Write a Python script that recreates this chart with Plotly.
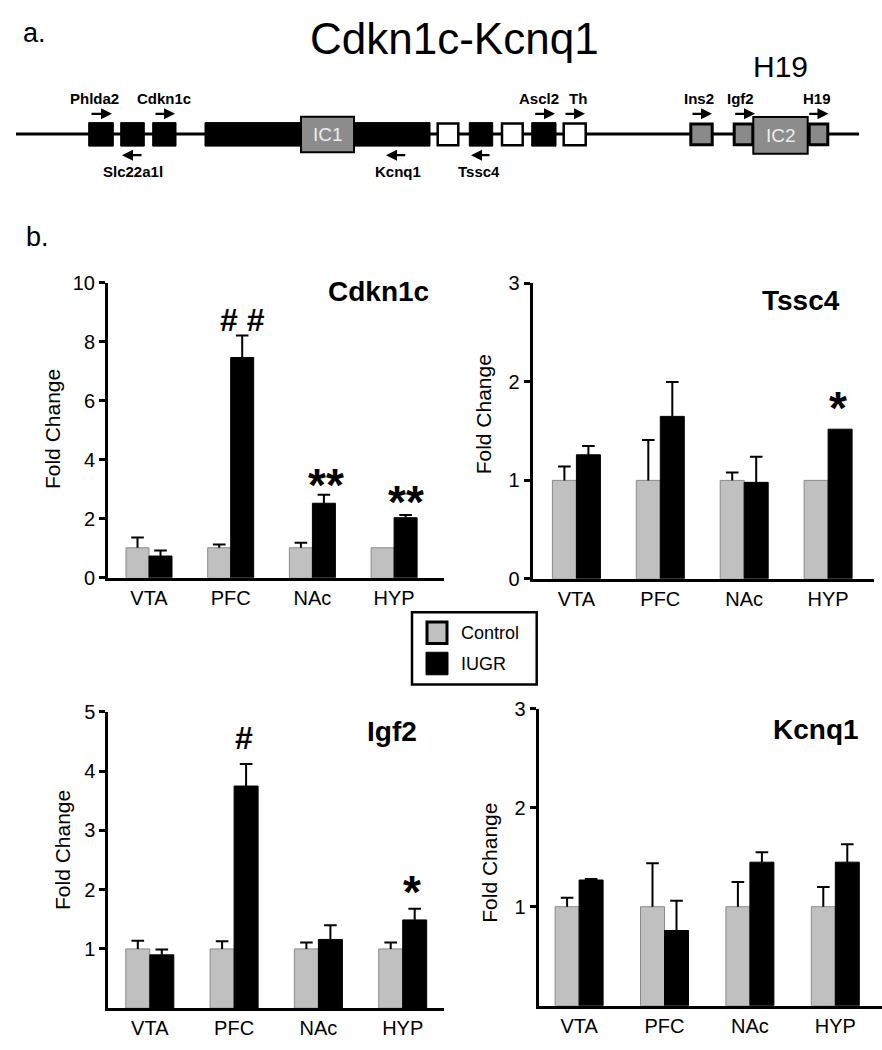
import plotly.graph_objects as go

W, H = 882, 1050
FONT = "Liberation Sans, Arial, sans-serif"

# ---------------- data ----------------
regions = ["VTA", "PFC", "NAc", "HYP"]

cdkn1c_control = [1.02, 1.02, 1.02, 1.02]
cdkn1c_control_sem = [0.35, 0.11, 0.17, 0.0]
cdkn1c_iugr = [0.74, 7.47, 2.53, 2.04]
cdkn1c_iugr_sem = [0.19, 0.75, 0.29, 0.09]

tssc4_control = [1.0, 1.0, 1.0, 1.0]
tssc4_control_sem = [0.14, 0.41, 0.08, 0.0]
tssc4_iugr = [1.26, 1.65, 0.98, 1.52]
tssc4_iugr_sem = [0.09, 0.35, 0.26, 0.0]

igf2_control = [1.0, 1.0, 1.0, 1.0]
igf2_control_sem = [0.14, 0.13, 0.11, 0.11]
igf2_iugr = [0.90, 3.75, 1.16, 1.49]
igf2_iugr_sem = [0.09, 0.37, 0.24, 0.19]

kcnq1_control = [1.0, 1.0, 1.0, 1.0]
kcnq1_control_sem = [0.09, 0.44, 0.25, 0.20]
kcnq1_iugr = [1.27, 0.76, 1.45, 1.45]
kcnq1_iugr_sem = [0.01, 0.30, 0.10, 0.18]

cdkn1c_ticks = [0, 2, 4, 6, 8, 10]
tssc4_ticks = [0, 1, 2, 3]
igf2_ticks = [1, 2, 3, 4, 5]
kcnq1_ticks = [1, 2, 3]

# ---------------- helpers ----------------
def px(x):
    return x / W


def py(y):
    return 1 - y / H


CTRL_COLOR = "#c0c0c0"
IUGR_COLOR = "#000000"

panels = [
    dict(title="Cdkn1c", ctrl=cdkn1c_control, ctrl_sem=cdkn1c_control_sem,
         iugr=cdkn1c_iugr, iugr_sem=cdkn1c_iugr_sem, ticks=cdkn1c_ticks, ymax=10,
         x0=108, x1=444, ytop=277.7, ybot=579, first=41, step=81.7, bar=23,
         title_xy=(378, 286), ytitle_xy=(52, 427)),
    dict(title="Tssc4", ctrl=tssc4_control, ctrl_sem=tssc4_control_sem,
         iugr=tssc4_iugr, iugr_sem=tssc4_iugr_sem, ticks=tssc4_ticks, ymax=3,
         x0=532.7, x1=874, ytop=278.3, ybot=580, first=43.7, step=83.9, bar=24,
         title_xy=(801, 296), ytitle_xy=(483, 412)),
    dict(title="Igf2", ctrl=igf2_control, ctrl_sem=igf2_control_sem,
         iugr=igf2_iugr, iugr_sem=igf2_iugr_sem, ticks=igf2_ticks, ymax=5,
         x0=108.3, x1=444, ytop=716, ybot=1018.5, first=41.5, step=84.3, bar=24,
         title_xy=(392, 736), ytitle_xy=(62, 857)),
    dict(title="Kcnq1", ctrl=kcnq1_control, ctrl_sem=kcnq1_control_sem,
         iugr=kcnq1_iugr, iugr_sem=kcnq1_iugr_sem, ticks=kcnq1_ticks, ymax=3,
         x0=538.7, x1=882, ytop=712.7, ybot=1016, first=40.4, step=85.4, bar=24,
         title_xy=(816, 734), ytitle_xy=(490, 870)),
]

fig = go.Figure()
annotations = []
shapes = []
layout_axes = {}

for i, p in enumerate(panels, start=1):
    xa = "x" if i == 1 else f"x{i}"
    ya = "y" if i == 1 else f"y{i}"
    bw = p["bar"] / p["step"]
    idx = list(range(len(regions)))

    for vals, sems, off, color, lc, name in [
        (p["ctrl"], p["ctrl_sem"], -bw, CTRL_COLOR, "#8a8a8a", "Control"),
        (p["iugr"], p["iugr_sem"], 0, IUGR_COLOR, "black", "IUGR"),
    ]:
        fig.add_trace(go.Bar(
            x=idx, y=vals, width=bw, offset=off, xaxis=xa, yaxis=ya,
            marker=dict(color=color, line=dict(color=lc, width=1)),
            name=name, showlegend=False))
        # upper-only error bars: stem + cap
        centers = [k + off + bw / 2 for k in idx]
        sx, sy, cx, cy = [], [], [], []
        for c, v, s in zip(centers, vals, sems):
            if s > 0:
                sx += [c, c, None]
                sy += [v, v + s, None]
                cx.append(c)
                cy.append(v + s)
        fig.add_trace(go.Scatter(x=sx, y=sy, mode="lines", xaxis=xa, yaxis=ya,
                                 line=dict(color="black", width=2),
                                 hoverinfo="skip", showlegend=False))
        fig.add_trace(go.Scatter(x=cx, y=cy, mode="markers", xaxis=xa, yaxis=ya,
                                 marker=dict(symbol="line-ew", size=9,
                                             line=dict(color="black", width=2)),
                                 hoverinfo="skip", showlegend=False))

    width_px = p["x1"] - p["x0"]
    xr = [-p["first"] / p["step"], (width_px - p["first"]) / p["step"]]
    layout_axes["xaxis" if i == 1 else f"xaxis{i}"] = dict(
        domain=[px(p["x0"]), px(p["x1"])], anchor=ya, range=xr,
        tickvals=idx, ticktext=regions, ticks="", showline=True, linewidth=3,
        linecolor="black", showgrid=False, zeroline=False,
        tickfont=dict(family=FONT, size=20, color="black"), fixedrange=True)
    layout_axes["yaxis" if i == 1 else f"yaxis{i}"] = dict(
        domain=[py(p["ybot"]), py(p["ytop"])], anchor=xa, range=[0, p["ymax"]],
        tickvals=p["ticks"], ticks="outside", ticklen=6, tickwidth=3,
        tickcolor="black", showline=True, linewidth=3, linecolor="black",
        showgrid=False, zeroline=False,
        tickfont=dict(family=FONT, size=20, color="black"), fixedrange=True)

    annotations.append(dict(text=f"<b>{p['title']}</b>", x=px(p["title_xy"][0]),
                            y=py(p["title_xy"][1]), xref="paper", yref="paper",
                            showarrow=False, xanchor="center", yanchor="middle",
                            font=dict(family=FONT, size=28, color="black")))
    annotations.append(dict(text="Fold Change", x=px(p["ytitle_xy"][0]),
                            y=py(p["ytitle_xy"][1]), xref="paper", yref="paper",
                            showarrow=False, textangle=-90, xanchor="center",
                            yanchor="middle",
                            font=dict(family=FONT, size=21, color="black")))

# significance marks (text, x px, y px, size, bold)
sig_marks = [
    ("# #", 242.5, 316, 32, True),
    ("**", 326, 484, 46, True),
    ("**", 406, 501, 46, True),
    ("*", 838, 406, 46, True),
    ("#", 244, 743, 32, True),
    ("*", 412, 900, 46, True),
]
for t, x, y, s, b in sig_marks:
    annotations.append(dict(text=f"<b>{t}</b>" if b else t, x=px(x), y=py(y),
                            xref="paper", yref="paper", showarrow=False,
                            xanchor="center", yanchor="middle",
                            font=dict(family=FONT, size=s, color="black")))

# ---------------- panel a: gene map ----------------
annotations.append(dict(text="a.", x=px(21), y=py(22), xref="paper", yref="paper",
                        showarrow=False, xanchor="left", yanchor="middle",
                        font=dict(family=FONT, size=27, color="black")))
annotations.append(dict(text="b.", x=px(24), y=py(231), xref="paper", yref="paper",
                        showarrow=False, xanchor="left", yanchor="middle",
                        font=dict(family=FONT, size=27, color="black")))
annotations.append(dict(text="Cdkn1c-Kcnq1", x=px(454), y=py(28), xref="paper",
                        yref="paper", showarrow=False, xanchor="center",
                        yanchor="middle",
                        font=dict(family=FONT, size=44, color="black")))
annotations.append(dict(text="H19", x=px(780), y=py(57), xref="paper",
                        yref="paper", showarrow=False, xanchor="center",
                        yanchor="middle",
                        font=dict(family=FONT, size=30, color="black")))

LINE_Y = 125.7
shapes.append(dict(type="line", xref="paper", yref="paper", x0=px(16), x1=px(859),
                   y0=py(LINE_Y), y1=py(LINE_Y), line=dict(color="black", width=3)))

BOX_T, BOX_B = 114, 138
black_boxes = [(88.7, 113.3), (120.7, 144.3), (152.7, 176), (205, 430),
               (469.3, 492.7), (531.7, 556)]
white_boxes = [(436.7, 459.3), (501, 523.7), (562.7, 586.7)]
dotted_boxes = [(689.3, 713.7), (732.7, 754.3), (807.7, 829.3)]
for a, b in black_boxes:
    shapes.append(dict(type="rect", xref="paper", yref="paper", x0=px(a), x1=px(b),
                       y0=py(BOX_B), y1=py(BOX_T), fillcolor="black",
                       line=dict(color="black", width=1)))
for a, b in white_boxes:
    shapes.append(dict(type="rect", xref="paper", yref="paper", x0=px(a + 1),
                       x1=px(b - 1), y0=py(BOX_B - 1), y1=py(BOX_T + 1),
                       fillcolor="white", line=dict(color="black", width=2.5)))
for a, b in dotted_boxes:
    shapes.append(dict(type="rect", xref="paper", yref="paper", x0=px(a + 1.5),
                       x1=px(b - 1.5), y0=py(BOX_B - 1.5), y1=py(BOX_T + 1.5),
                       fillcolor="#8a8a8a", line=dict(color="black", width=3)))

ic_boxes = [("IC1", 301, 354, 108, 144.3), ("IC2", 753.3, 807.7, 108.3, 145.7)]
for t, a, b, top, bot in ic_boxes:
    shapes.append(dict(type="rect", xref="paper", yref="paper", x0=px(a), x1=px(b),
                       y0=py(bot), y1=py(top), fillcolor="#8c8c8c",
                       line=dict(color="black", width=2)))
    annotations.append(dict(text=t, x=px((a + b) / 2), y=py((top + bot) / 2),
                            xref="paper", yref="paper", showarrow=False,
                            xanchor="center", yanchor="middle",
                            font=dict(family=FONT, size=19, color="#ececec")))

# gene labels: name, label x, arrow tail x, arrow head x, position
genes = [
    ("Phlda2", 94, 90, 112, "top"),
    ("Cdkn1c", 164, 154, 175, "top"),
    ("Ascl2", 539, 533.7, 555, "top"),
    ("Th", 577.7, 564, 585, "top"),
    ("Ins2", 699, 691, 712, "top"),
    ("Igf2", 740, 733.7, 755, "top"),
    ("H19", 817, 807.7, 828.5, "top"),
    ("Slc22a1l", 133, 143, 122, "bottom"),
    ("Kcnq1", 398, 406.7, 386, "bottom"),
    ("Tssc4", 479, 491, 471, "bottom"),
]
for name, lx, tail, head, pos in genes:
    label_y = 89 if pos == "top" else 163.5
    arrow_y = 105 if pos == "top" else 147.3
    annotations.append(dict(text=f"<b>{name}</b>", x=px(lx), y=py(label_y),
                            xref="paper", yref="paper", showarrow=False,
                            xanchor="center", yanchor="middle",
                            font=dict(family=FONT, size=15, color="black")))
    annotations.append(dict(text="", x=px(head), y=py(arrow_y), xref="paper",
                            yref="paper", showarrow=True, ax=tail - head, ay=0,
                            arrowhead=2, arrowsize=1, arrowwidth=2.2,
                            arrowcolor="black", standoff=0, startstandoff=0))

# ---------------- legend ----------------
shapes.append(dict(type="rect", xref="paper", yref="paper", x0=px(412), x1=px(536.7),
                   y0=py(688), y1=py(614), fillcolor="white",
                   line=dict(color="black", width=2.5)))
shapes.append(dict(type="rect", xref="paper", yref="paper", x0=px(427), x1=px(447),
                   y0=py(646), y1=py(624), fillcolor=CTRL_COLOR,
                   line=dict(color="black", width=3)))
shapes.append(dict(type="rect", xref="paper", yref="paper", x0=px(426), x1=px(448),
                   y0=py(678), y1=py(655), fillcolor="black",
                   line=dict(color="black", width=1)))
for t, y in [("Control", 635), ("IUGR", 667)]:
    annotations.append(dict(text=t, x=px(459), y=py(y), xref="paper", yref="paper",
                            showarrow=False, xanchor="left", yanchor="middle",
                            font=dict(family=FONT, size=18, color="black")))

fig.update_layout(
    width=W, height=H, margin=dict(l=0, r=0, t=0, b=0),
    paper_bgcolor="white", plot_bgcolor="white", showlegend=False,
    barmode="overlay", font=dict(family=FONT, color="black"),
    annotations=annotations, shapes=shapes, **layout_axes)

fig.write_html("out.html", config={"displayModeBar": False},
               post_script="document.body.style.margin='0';document.body.style.overflow='hidden';")
